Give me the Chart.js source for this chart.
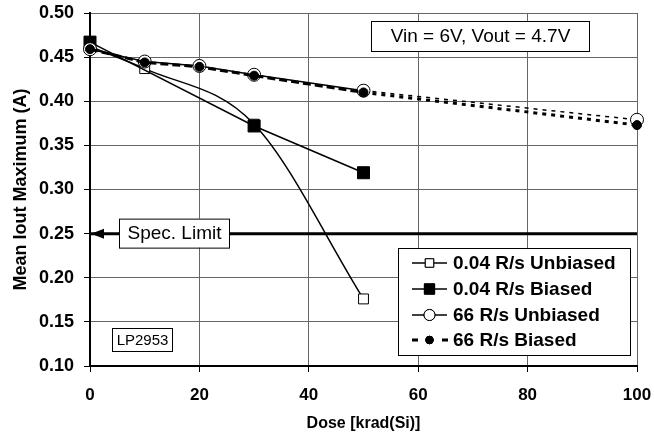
<!DOCTYPE html>
<html lang="en">
<head>
<meta charset="UTF-8">
<title>Mean Iout Maximum vs Dose</title>
<script src="https://cdn.jsdelivr.net/npm/chart.js@4.4.1/dist/chart.umd.min.js"></script>
<style>
  body { margin: 0; background: #fff; }
  #wrap { width: 654px; height: 440px; position: relative; }
</style>
</head>
<body>
<div id="wrap"><canvas id="c"></canvas></div>
<script>
// data
const doseUnb004 = [0, 10, 30, 50];
const iUnb004 = [0.462, 0.437, 0.374, 0.176];
const doseB004 = [0, 30, 50];
const iB004 = [0.467, 0.372, 0.319];
const dose66 = [0, 10, 20, 30, 50, 100];
const iUnb66 = [0.459, 0.445, 0.440, 0.430, 0.412, 0.379];
const iB66 = [0.459, 0.444, 0.439, 0.429, 0.410, 0.373];
const specLimit = 0.25;
const xTicks = [0, 20, 40, 60, 80, 100];
const yTicks = [0.10, 0.15, 0.20, 0.25, 0.30, 0.35, 0.40, 0.45, 0.50];

const FONT = "Arial, 'Liberation Sans', sans-serif";
const pts = (xs, ys) => xs.map((x, i) => ({ x: x, y: ys[i] }));
// dotted look past 50 krad where the two 66 R/s lines overlap
const tailDash = ctx => ctx.p0.parsed.x >= 50 ? [4, 5] : undefined;

// lower "order" is drawn on top
const datasets = [
  { label: 'Spec', data: [{ x: 0, y: specLimit }, { x: 100, y: specLimit }], order: 6,
    borderColor: '#000', borderWidth: 3, pointRadius: 0, tension: 0 },
  { label: '0.04 R/s Unbiased', data: pts(doseUnb004, iUnb004), order: 5, clip: false,
    borderColor: '#000', borderWidth: 1.5, cubicInterpolationMode: 'monotone',
    pointStyle: 'rect', pointRadius: 7, pointBackgroundColor: '#fff', pointBorderColor: '#000', pointBorderWidth: 1 },
  { label: '0.04 R/s Biased', data: pts(doseB004, iB004), order: 4, clip: false,
    borderColor: '#000', borderWidth: 1.5, tension: 0,
    pointStyle: 'rect', pointRadius: 8.5, pointBackgroundColor: '#000', pointBorderColor: '#000', pointBorderWidth: 1 },
  { label: '66 R/s Unbiased', data: pts(dose66, iUnb66), order: 3, clip: false,
    borderColor: '#000', borderWidth: 1.5, tension: 0, segment: { borderDash: tailDash },
    pointStyle: 'circle', pointRadius: 6.5, pointBackgroundColor: '#fff', pointBorderColor: '#000', pointBorderWidth: 1 },
  { label: '66 R/s Biased', data: pts(dose66, iB66), order: 2, clip: false,
    borderColor: '#000', borderWidth: 3, borderDash: [8, 4], tension: 0, segment: { borderDash: tailDash },
    pointStyle: 'circle', pointRadius: 4.5, pointBackgroundColor: '#000', pointBorderColor: '#000', pointBorderWidth: 1 }
];

function box(ctx, x, y, w, h, text, font) {
  ctx.save();
  ctx.fillStyle = '#fff';
  ctx.fillRect(x, y, w, h);
  ctx.strokeStyle = '#000';
  ctx.lineWidth = 1;
  ctx.strokeRect(x + 0.5, y + 0.5, w, h);
  ctx.fillStyle = '#000';
  ctx.font = font;
  ctx.textAlign = 'center';
  ctx.textBaseline = 'middle';
  ctx.fillText(text, x + w / 2 + 0.5, y + h / 2 + 1);
  ctx.restore();
}

const notes = {
  id: 'notes',
  afterDatasetsDraw(chart) {
    const ctx = chart.ctx;
    const xs = chart.scales.x, ys = chart.scales.y;
    const yS = ys.getPixelForValue(specLimit);
    const x0 = xs.getPixelForValue(0);
    // arrow head on the spec limit pointing at the axis
    ctx.save();
    ctx.fillStyle = '#000';
    ctx.beginPath();
    ctx.moveTo(x0 + 1, yS);
    ctx.lineTo(x0 + 14, yS - 5);
    ctx.lineTo(x0 + 14, yS + 5);
    ctx.closePath();
    ctx.fill();
    ctx.restore();
    box(ctx, 119, yS - 15, 110, 29, 'Spec. Limit', '19px ' + FONT);
    box(ctx, 371, 21, 218, 30, 'Vin = 6V, Vout = 4.7V', '19px ' + FONT);
    box(ctx, 112, 328, 60, 23, 'LP2953', '15px ' + FONT);
  },
  afterDraw(chart) {
    const ctx = chart.ctx;
    const lx = 398, ly = 248, lw = 232, lh = 107;
    ctx.save();
    ctx.fillStyle = '#fff';
    ctx.fillRect(lx, ly, lw, lh);
    ctx.strokeStyle = '#000';
    ctx.lineWidth = 1;
    ctx.strokeRect(lx + 0.5, ly + 0.5, lw, lh);
    const rows = [263, 289, 315, 340];
    const sets = chart.data.datasets.slice(1);
    sets.forEach((ds, i) => {
      const y = rows[i];
      ctx.save();
      ctx.strokeStyle = '#000';
      ctx.lineWidth = ds.borderWidth;
      if (ds.borderDash) ctx.setLineDash([6, 24]);
      ctx.beginPath();
      ctx.moveTo(412, y);
      ctx.lineTo(ds.borderDash ? 448 : 447, y);
      ctx.stroke();
      ctx.restore();
      Chart.helpers.drawPoint(ctx, {
        pointStyle: ds.pointStyle, radius: ds.pointRadius * 0.85, borderWidth: 1
      }, 429.5, y);
      ctx.fillStyle = ds.pointBackgroundColor;
      ctx.strokeStyle = '#000';
      ctx.fill();
      ctx.stroke();
      ctx.fillStyle = '#000';
      ctx.font = 'bold 19px ' + FONT;
      ctx.textAlign = 'left';
      ctx.textBaseline = 'middle';
      ctx.fillText(ds.label, 453, y + 1);
    });
    ctx.restore();
  }
};

new Chart(document.getElementById('c'), {
  type: 'line',
  data: { datasets: datasets },
  options: {
    responsive: true,
    maintainAspectRatio: false,
    animation: false,
    layout: { padding: { top: 13, right: 17, left: 0, bottom: 0 } },
    plugins: { legend: { display: false }, tooltip: { enabled: false } },
    scales: {
      x: {
        type: 'linear', min: 0, max: 100,
        afterBuildTicks: s => { s.ticks = xTicks.map(v => ({ value: v })); },
        afterFit: s => { s.height = 74; s.paddingLeft = 0; s.paddingRight = 0; },
        ticks: { color: '#000', font: { family: FONT, size: 17, weight: 'bold' }, padding: 13 },
        grid: { color: '#666', lineWidth: 1, tickLength: 6, tickColor: '#000' },
        border: { color: '#000', width: 2 },
        title: { display: true, text: 'Dose [krad(Si)]', color: '#000',
                 font: { family: FONT, size: 16, weight: 'bold' }, padding: { top: 0, bottom: 7 } }
      },
      y: {
        min: 0.10, max: 0.50,
        afterBuildTicks: s => { s.ticks = yTicks.map(v => ({ value: v })); },
        afterFit: s => { s.width = 90; s.paddingTop = 0; s.paddingBottom = 0; },
        ticks: { color: '#000', font: { family: FONT, size: 18, weight: 'bold' }, padding: 10,
                 callback: v => v.toFixed(2) },
        grid: { color: '#666', lineWidth: 1, tickLength: 6, tickColor: '#000' },
        border: { color: '#000', width: 2 },
        title: { display: true, text: 'Mean Iout Maximum (A)', color: '#000',
                 font: { family: FONT, size: 18, weight: 'bold' }, padding: { top: 10, bottom: 0 } }
      }
    }
  },
  plugins: [notes]
});
</script>
</body>
</html>
